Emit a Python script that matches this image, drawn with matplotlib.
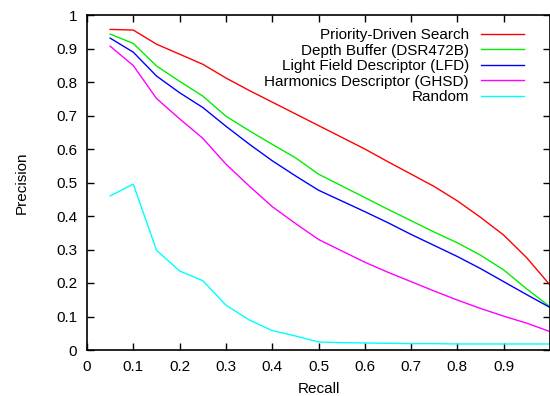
import matplotlib
matplotlib.use("Agg")
import matplotlib.pyplot as plt

recall = [0.05, 0.10, 0.15, 0.20, 0.25, 0.30, 0.35, 0.40, 0.45, 0.50,
          0.55, 0.60, 0.65, 0.70, 0.75, 0.80, 0.85, 0.90, 0.95, 1.00]

priority = [0.957, 0.955, 0.913, 0.883, 0.853, 0.812, 0.775, 0.740, 0.705, 0.670,
            0.635, 0.600, 0.562, 0.525, 0.488, 0.445, 0.396, 0.343, 0.275, 0.194]
depth = [0.943, 0.915, 0.848, 0.802, 0.758, 0.698, 0.655, 0.614, 0.574, 0.525,
         0.490, 0.455, 0.420, 0.386, 0.352, 0.320, 0.283, 0.239, 0.182, 0.129]
lfd = [0.931, 0.889, 0.818, 0.768, 0.724, 0.668, 0.615, 0.565, 0.520, 0.477,
       0.445, 0.413, 0.380, 0.345, 0.312, 0.279, 0.243, 0.204, 0.165, 0.127]
ghsd = [0.907, 0.849, 0.751, 0.690, 0.632, 0.555, 0.490, 0.428, 0.378, 0.330,
        0.296, 0.262, 0.232, 0.204, 0.176, 0.149, 0.124, 0.101, 0.080, 0.055]
rand = [0.460, 0.495, 0.298, 0.236, 0.207, 0.134, 0.090, 0.058, 0.042, 0.024,
        0.022, 0.021, 0.020, 0.019, 0.019, 0.018, 0.018, 0.018, 0.018, 0.018]

series = [
    ("Priority-Driven Search", priority, "#ff0000"),
    ("Depth Buffer (DSR472B)", depth, "#00ee00"),
    ("Light Field Descriptor (LFD)", lfd, "#0000ff"),
    ("Harmonics Descriptor (GHSD)", ghsd, "#ff00ff"),
    ("Random", rand, "#00ffff"),
]

xticks = [0, 0.1, 0.2, 0.3, 0.4, 0.5, 0.6, 0.7, 0.8, 0.9]
xticklabels = ["0", "0.1", "0.2", "0.3", "0.4", "0.5", "0.6", "0.7", "0.8", "0.9"]
yticks = [0, 0.1, 0.2, 0.3, 0.4, 0.5, 0.6, 0.7, 0.8, 0.9, 1.0]
yticklabels = ["0", "0.1", "0.2", "0.3", "0.4", "0.5", "0.6", "0.7", "0.8", "0.9", "1"]

plt.rcParams['font.family'] = ['Liberation Sans', 'DejaVu Sans']
FS = 11

fig = plt.figure(figsize=(5.5, 3.96), dpi=100)
ax = fig.add_axes([87/550, 1-350/396, 1-87/550, (350-15)/396])

for name, vals, col in series:
    ax.plot(recall, vals, color=col, lw=1.0, label=name)

ax.set_xlim(0, 1)
ax.set_ylim(0, 1)
ax.set_xticks(xticks)
ax.set_xticklabels(xticklabels)
ax.set_yticks(yticks)
ax.set_yticklabels(yticklabels)
ax.tick_params(direction='in', top=True, right=True, length=5, width=1,
               labelsize=FS, pad=7)
for s in ax.spines.values():
    s.set_linewidth(1.2)
ax.set_xlabel("Recall", fontsize=FS, va='top')
ax.xaxis.set_label_coords(0.502, -0.095)
ax.set_ylabel("Precision", fontsize=FS)
ax.yaxis.set_label_coords(-0.125, 0.5)

leg = ax.legend(loc='upper right', bbox_to_anchor=(0.944, 0.961), frameon=False,
                markerfirst=False, fontsize=FS, handlelength=2.8,
                handletextpad=0.8, labelspacing=0.1, borderaxespad=0.0,
                borderpad=0.0)
for t in leg.get_texts():
    t.set_ha('right')
leg._legend_box.align = 'right'

fig.savefig("out.png", dpi=100)
